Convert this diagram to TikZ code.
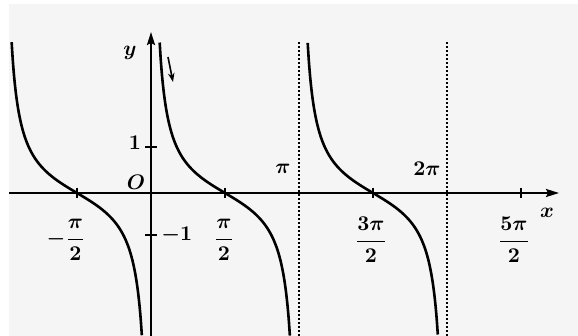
\documentclass[tikz,border=0pt]{standalone}
\usetikzlibrary{arrows.meta}
\definecolor{bg}{RGB}{245,245,245}
\begin{document}
\begin{tikzpicture}[x=1pt,y=-1pt,
  lbl/.style={font=\bfseries\boldmath, inner sep=0pt, scale=2.1},
  curve/.style={line width=2.6pt},
  axisline/.style={line width=2pt,-{Stealth[length=13pt,width=8pt,inset=2pt]}},
  asym/.style={line width=2pt, dash pattern=on 2.4pt off 1.6pt},
  tickline/.style={line width=1.5pt}]
\useasboundingbox (0,0) rectangle (578,336);
\fill[bg] (9,4) rectangle (578,336);
% asymptotes
\coordinate (a1t) at (298.5,42); \coordinate (a1b) at (298.5,336);
\coordinate (a2t) at (447,42); \coordinate (a2b) at (447,336);
\draw[asym] (a1t) -- (a1b);
\draw[asym] (a2t) -- (a2b);
% axes
\coordinate (xl) at (9,193); \coordinate (xr) at (559,193);
\coordinate (yb) at (151,336); \coordinate (yt) at (151,32);
\draw[axisline] (xl) -- (xr);
\draw[axisline] (yb) -- (yt);
% ticks
\foreach \t in {77,225,373,521} \draw[tickline] (\t,188) -- (\t,198);
\foreach \t in {147,235} \draw[tickline] (145,\t) -- (157,\t);
% cot branches
\draw[curve] plot[domain=-2.958:-0.194, samples=120, smooth] ({151+47.11*\x},{193-28*cot(\x r)});
\draw[curve] plot[domain=0.184:2.948, samples=120, smooth] ({151+47.11*\x},{193-28*cot(\x r)});
\draw[curve] plot[domain=3.326:6.089, samples=120, smooth] ({151+47.11*\x},{193-28*cot(\x r)});
% small arrow
\coordinate (sa) at (168,57); \coordinate (sb) at (173,82);
\draw[line width=1.6pt,-{Stealth[length=9pt,width=6.5pt]}] (sa) -- (sb);
% labels
\node[lbl] (ly) at (130,53) {$y$};
\node[lbl] (lx) at (547,213) {$x$};
\node[lbl] (lO) at (136,182) {$O$};
\node[lbl] (l1) at (135,143) {$1$};
\node[lbl, anchor=west] (lm1) at (161,235) {$-1$};
\node[lbl] (lpi) at (283,169) {$\pi$};
\node[lbl] (l2pi) at (427,169) {$2\pi$};
\node[lbl] (lmh) at (66,240) {$-\displaystyle\frac{\pi}{2}$};
\node[lbl] (lh) at (224,240) {$\displaystyle\frac{\pi}{2}$};
\node[lbl] (l3h) at (371,240) {$\displaystyle\frac{3\pi}{2}$};
\node[lbl] (l5h) at (514,240) {$\displaystyle\frac{5\pi}{2}$};
\end{tikzpicture}
\end{document}
